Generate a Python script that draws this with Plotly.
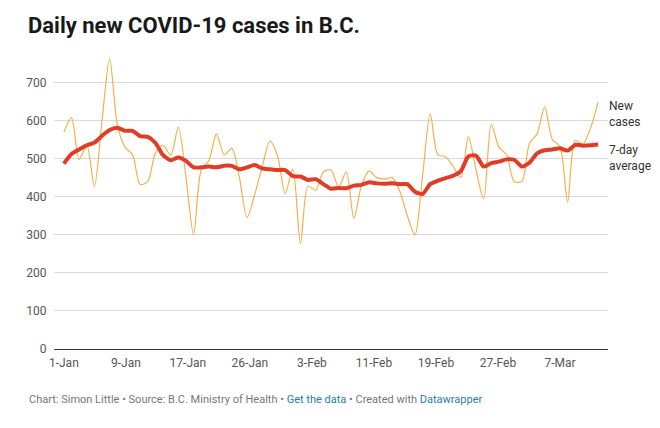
import pandas as pd
import plotly.graph_objects as go

# daily values, 1 Jan - 12 Mar 2021
dates = pd.date_range("2021-01-01", "2021-03-12", freq="D")

new_cases = [570, 607, 498, 535, 427, 600, 762, 590, 530, 510,
             432, 440, 515, 535, 509, 583, 450, 300, 470, 495,
             565, 510, 527, 450, 345, 405, 480, 546, 507, 408,
             473, 277, 428, 417, 465, 470, 425, 465, 343, 430,
             468, 450, 446, 450, 415, 350, 300, 455, 618, 510,
             505, 480, 450, 558, 470, 394, 590, 530, 510, 440,
             440, 540, 565, 636, 550, 532, 385, 548, 538, 580,
             649]

avg_7day = [487, 512, 524, 535, 542, 560, 575, 581, 573, 573,
            559, 557, 541, 509, 496, 503, 494, 477, 477, 479,
            477, 481, 481, 472, 477, 483, 474, 472, 470, 470,
            454, 453, 444, 446, 433, 421, 423, 422, 429, 431,
            438, 435, 434, 435, 433, 433, 413, 407, 433, 442,
            449, 455, 467, 506, 508, 479, 488, 492, 498, 497,
            479, 489, 514, 522, 524, 527, 521, 536, 534, 535,
            537]

tick_labels = ["1-Jan", "9-Jan", "17-Jan", "26-Jan", "3-Feb",
               "11-Feb", "19-Feb", "27-Feb", "7-Mar"]
y_ticks = [0, 100, 200, 300, 400, 500, 600, 700]

# datawrapper spaces the date ticks evenly over the range, then rounds the labels
step = pd.Timedelta(days=65) / 8
tick_pos = [dates[0] + k * step for k in range(len(tick_labels))]

pad = pd.Timedelta(hours=31)

fig = go.Figure()
fig.add_trace(go.Scatter(x=dates, y=new_cases, mode="lines",
                         line=dict(color="#f5b04c", width=1.2, shape="spline", smoothing=0.8),
                         hoverinfo="skip"))
fig.add_trace(go.Scatter(x=dates, y=avg_7day, mode="lines",
                         line=dict(color="#e23b26", width=4, shape="spline", smoothing=0.6),
                         hoverinfo="skip"))

label_font = dict(family="Roboto", size=12, color="#333333")
fig.add_annotation(x=dates[-1], y=new_cases[-1], text="New<br>cases",
                   xanchor="left", yanchor="top", xshift=9, yshift=5,
                   showarrow=False, align="left", font=label_font)
fig.add_annotation(x=dates[-1], y=avg_7day[-1], text="7-day<br>average",
                   xanchor="left", yanchor="top", xshift=9, yshift=4,
                   showarrow=False, align="left", font=label_font)

footer = ("Chart: Simon Little • Source: B.C. Ministry of Health • "
          "<span style='color:#1d81a2'>Get the data</span> • Created with "
          "<span style='color:#1d81a2'>Datawrapper</span>")
fig.add_annotation(xref="paper", yref="paper", x=-27 / 554, y=-50.5 / 297.5,
                   text=footer, xanchor="left", yanchor="middle", showarrow=False,
                   font=dict(family="Roboto", size=11, color="#777777"))

fig.update_layout(
    width=660, height=428,
    margin=dict(l=54, r=52, t=52, b=78.5),
    paper_bgcolor="white", plot_bgcolor="white",
    showlegend=False,
    font=dict(family="Roboto", size=12, color="#555555"),
    title=dict(text="<b>Daily new COVID-19 cases in B.C.</b>",
               x=28 / 660, xanchor="left", y=1 - 25 / 428, yanchor="middle",
               font=dict(family="Roboto", size=22, color="#1a1a1a")),
    xaxis=dict(range=[dates[0] - pad, dates[-1] + pad],
               tickvals=tick_pos, ticktext=tick_labels,
               showgrid=False, zeroline=False,
               showline=True, linecolor="#333333", linewidth=1,
               ticks="outside", ticklen=3, tickcolor="rgba(0,0,0,0)",
               tickfont=dict(family="Roboto", size=12, color="#555555")),
    yaxis=dict(range=[0, 780], tickvals=y_ticks,
               showgrid=True, gridcolor="#d9d9d9", gridwidth=1,
               zeroline=False, showline=False,
               ticks="outside", ticklen=4, tickcolor="rgba(0,0,0,0)",
               tickfont=dict(family="Roboto", size=12, color="#555555")),
)

fig.write_html("out.html", config={"displayModeBar": False},
               post_script="document.body.style.margin='0';")
